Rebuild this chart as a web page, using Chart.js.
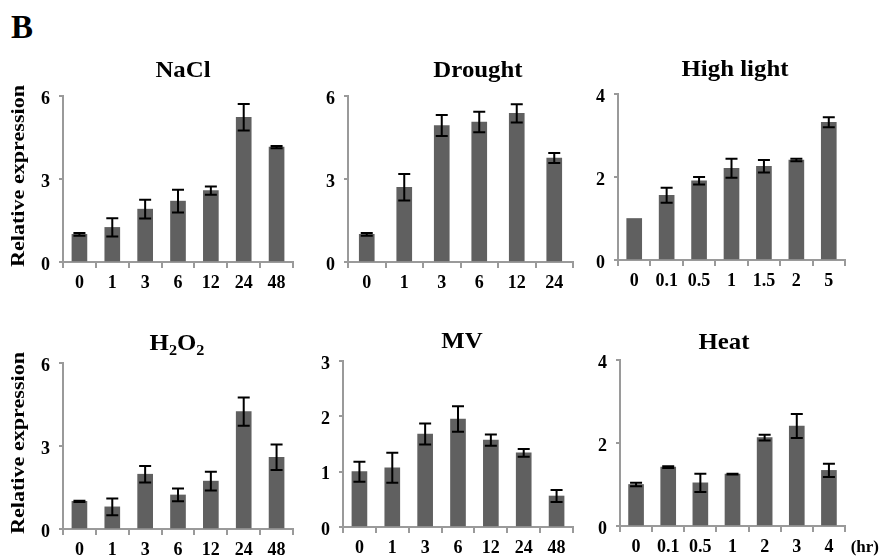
<!DOCTYPE html>
<html lang="en">
<head>
<meta charset="UTF-8" />
<title>Relative expression</title>
<script src="https://cdn.jsdelivr.net/npm/chart.js"></script>
<style>
  body { margin: 0; background: #fff; width: 880px; height: 559px; position: relative; overflow: hidden; }
  .panel { position: absolute; }
  #panelLabel { position: absolute; left: 11px; top: 11px; font: bold 33px "Liberation Serif", serif; line-height: 1; color: #000; }
</style>
</head>
<body>
<div id="panelLabel">B</div>
<script>
  // ---- data (hours after treatment) ----
  const naclTimes = ["0", "1", "3", "6", "12", "24", "48"];
  const naclMean = [1.0, 1.25, 1.91, 2.2, 2.58, 5.23, 4.15];
  const naclErr = [0.05, 0.33, 0.34, 0.41, 0.15, 0.48, 0.04];

  const droughtTimes = ["0", "1", "3", "6", "12", "24"];
  const droughtMean = [1.0, 2.7, 4.93, 5.06, 5.37, 3.76];
  const droughtErr = [0.05, 0.48, 0.38, 0.37, 0.33, 0.18];

  const lightTimes = ["0", "0.1", "0.5", "1", "1.5", "2", "5"];
  const lightMean = [1.0, 1.56, 1.91, 2.21, 2.26, 2.41, 3.32];
  const lightErr = [0, 0.18, 0.09, 0.23, 0.15, 0.03, 0.12];

  const h2o2Times = ["0", "1", "3", "6", "12", "24", "48"];
  const h2o2Mean = [1.0, 0.8, 1.98, 1.23, 1.73, 4.24, 2.59];
  const h2o2Err = [0.02, 0.3, 0.3, 0.23, 0.34, 0.51, 0.46];

  const mvTimes = ["0", "1", "3", "6", "12", "24", "48"];
  const mvMean = [1.0, 1.07, 1.68, 1.95, 1.57, 1.34, 0.56];
  const mvErr = [0.18, 0.27, 0.19, 0.23, 0.1, 0.07, 0.11];

  const heatTimes = ["0", "0.1", "0.5", "1", "2", "3", "4"];
  const heatMean = [1.0, 1.42, 1.04, 1.25, 2.13, 2.41, 1.34];
  const heatErr = [0.04, 0.02, 0.22, 0.01, 0.07, 0.29, 0.16];

  const yTitle = "Relative expression";
  const unitLabel = "(hr)";

  const FONT = '"Liberation Serif", "Times New Roman", serif';
  const BAR = "#606060";
  const AXIS = "#9a9a9a";

  // error bars drawn on top of the bars
  const errorBars = {
    id: "errorBars",
    afterDatasetsDraw(chart) {
      const ctx = chart.ctx;
      const y = chart.scales.y;
      const ds = chart.data.datasets[0];
      ctx.save();
      ctx.strokeStyle = "#000";
      ctx.lineWidth = 2;
      chart.getDatasetMeta(0).data.forEach((bar, i) => {
        const e = ds.errors[i];
        if (!e) return;
        const top = y.getPixelForValue(ds.data[i] + e);
        const bot = y.getPixelForValue(ds.data[i] - e);
        ctx.beginPath();
        ctx.moveTo(bar.x, top); ctx.lineTo(bar.x, bot);
        ctx.moveTo(bar.x - 6, top); ctx.lineTo(bar.x + 6, top);
        ctx.moveTo(bar.x - 6, bot); ctx.lineTo(bar.x + 6, bot);
        ctx.stroke();
      });
      ctx.restore();
    }
  };

  // titles (digits become subscripts), rotated y title, unit label
  const panelText = {
    id: "panelText",
    afterDraw(chart, args, o) {
      const ctx = chart.ctx;
      const area = chart.chartArea;
      ctx.save();
      ctx.fillStyle = "#000";
      ctx.textBaseline = "alphabetic";

      const parts = o.title.match(/[^\d]+|\d+/g);
      const fontOf = (p) => (/\d/.test(p) ? "bold 15px " : "bold 23px ") + FONT;
      let w = 0;
      parts.forEach((p) => { ctx.font = fontOf(p); w += ctx.measureText(p).width; });
      ctx.translate(o.titleX, o.titleY);
      ctx.scale(1.08, 1);
      let x = -w / 2;
      parts.forEach((p) => {
        ctx.font = fontOf(p);
        ctx.fillText(p, x, /\d/.test(p) ? 5 : 0);
        x += ctx.measureText(p).width;
      });
      ctx.setTransform(1, 0, 0, 1, 0, 0);

      if (o.yTitle) {
        ctx.font = "bold 18px " + FONT;
        const tw = ctx.measureText(o.yTitle).width;
        ctx.translate(16, (area.top + area.bottom) / 2 - 3);
        ctx.rotate(-Math.PI / 2);
        ctx.scale(182 / tw, 1);
        ctx.textAlign = "center";
        ctx.textBaseline = "middle";
        ctx.fillText(o.yTitle, 0, 0);
        ctx.setTransform(1, 0, 0, 1, 0, 0);
      }

      if (o.unit) {
        ctx.font = "bold 17px " + FONT;
        ctx.textAlign = "right";
        ctx.textBaseline = "middle";
        ctx.fillText(o.unit, chart.width - 1, area.bottom + 22);
      }
      ctx.restore();
    }
  };

  function makePanel(labels, values, errors, p) {
    const YW = 60, TOP = 60, XH = 45;
    const rp = p.rightPad || 12;
    const div = document.createElement("div");
    div.className = "panel";
    div.style.left = (p.axisX - YW) + "px";
    div.style.top = (p.top - TOP) + "px";
    const W = YW + (p.right - p.axisX) + rp;
    const H = TOP + (p.bottom - p.top) + XH;
    const canvas = document.createElement("canvas");
    canvas.width = W;
    canvas.height = H;
    div.appendChild(canvas);
    document.body.appendChild(div);

    new Chart(canvas.getContext("2d"), {
      type: "bar",
      data: {
        labels: labels,
        datasets: [{
          data: values,
          errors: errors,
          backgroundColor: BAR,
          borderWidth: 0,
          barThickness: 15
        }]
      },
      options: {
        responsive: false,
        animation: false,
        layout: { padding: { top: TOP, right: rp, left: 0, bottom: 0 } },
        plugins: {
          legend: { display: false },
          tooltip: { enabled: false },
          panelText: {
            title: p.title,
            titleX: p.titleX - (p.axisX - YW),
            titleY: p.titleY - (p.top - TOP),
            yTitle: p.yTitle,
            unit: p.unit
          }
        },
        scales: {
          x: {
            afterFit: (s) => { s.height = XH; },
            grid: { drawOnChartArea: false, color: AXIS, lineWidth: 2, tickLength: 6, offset: true },
            border: { color: AXIS, width: 2 },
            ticks: { color: "#000", font: { family: FONT, size: 18, weight: "bold" }, padding: 5, maxRotation: 0, autoSkip: false }
          },
          y: {
            min: 0,
            max: p.ymax,
            afterFit: (s) => { s.width = YW; },
            grid: { drawOnChartArea: false, color: AXIS, lineWidth: 2, tickLength: 4 },
            border: { color: AXIS, width: 2 },
            ticks: { stepSize: p.step, color: "#000", font: { family: FONT, size: 18, weight: "bold" }, padding: 9, labelOffset: 3 }
          }
        }
      },
      plugins: [errorBars, panelText]
    });
  }

  makePanel(naclTimes, naclMean, naclErr, { axisX: 63, top: 96, right: 293, bottom: 262, ymax: 6, step: 3, title: "NaCl", titleX: 183, titleY: 77, yTitle: yTitle });
  makePanel(droughtTimes, droughtMean, droughtErr, { axisX: 348, top: 96, right: 573, bottom: 262, ymax: 6, step: 3, title: "Drought", titleX: 478, titleY: 77 });
  makePanel(lightTimes, lightMean, lightErr, { axisX: 618, top: 94, right: 845, bottom: 260, ymax: 4, step: 2, title: "High light", titleX: 735, titleY: 76 });
  makePanel(h2o2Times, h2o2Mean, h2o2Err, { axisX: 63, top: 363, right: 293, bottom: 529, ymax: 6, step: 3, title: "H2O2", titleX: 177, titleY: 350, yTitle: yTitle });
  makePanel(mvTimes, mvMean, mvErr, { axisX: 343, top: 361, right: 573, bottom: 527, ymax: 3, step: 1, title: "MV", titleX: 462, titleY: 348 });
  makePanel(heatTimes, heatMean, heatErr, { axisX: 620, top: 360, right: 845, bottom: 526, ymax: 4, step: 2, title: "Heat", titleX: 724, titleY: 349, unit: unitLabel, rightPad: 35 });
</script>
</body>
</html>
